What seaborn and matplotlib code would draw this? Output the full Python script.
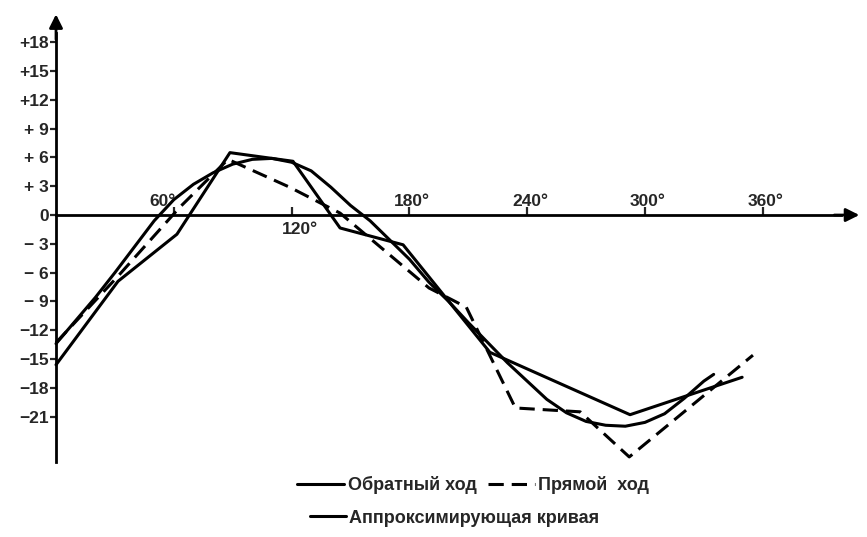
import pandas as pd
import seaborn as sns
import matplotlib.pyplot as plt

# values (angle in degrees, deviation)
angle_reverse = [0, 31.6, 61.6, 88.6, 120.7, 144.7, 176.8, 221, 292.4, 349.5]
value_reverse = [-15.6, -6.9, -2.0, 6.5, 5.6, -1.35, -3.1, -14.3, -20.8, -16.9]

angle_forward = [0, 31, 63, 87.6, 119, 144.7, 190, 209, 234, 267, 292, 355]
value_forward = [-13.3, -6.5, 0.8, 5.8, 2.9, 0.2, -7.6, -9.6, -20.1, -20.5, -25.2, -14.6]

angle_approx = [0, 10, 20, 30, 40, 50, 60, 70, 80, 90, 100, 110, 120, 130, 140, 150,
                160, 170, 180, 190, 200, 210, 220, 230, 240, 250, 260, 270, 280, 290,
                300, 310, 320, 330, 335]
value_approx = [-13.4, -11.0, -8.6, -6.0, -3.3, -0.6, 1.6, 3.2, 4.4, 5.3, 5.8, 5.9, 5.5,
                4.6, 2.9, 1.0, -0.6, -2.6, -4.6, -7.0, -9.0, -11.2, -13.3, -15.4, -17.3,
                -19.2, -20.6, -21.5, -21.9, -22.0, -21.6, -20.7, -19.1, -17.3, -16.6]

ytick_values = [-21, -18, -15, -12, -9, -6, -3, 0, 3, 6, 9, 12, 15, 18]
ytick_labels = ['−21', '−18', '−15', '−12', '− 9', '− 6', '− 3', '0',
                '+ 3', '+ 6', '+ 9', '+12', '+15', '+18']
xtick_values = [60, 120, 180, 240, 300, 360]
xtick_labels = ['60°', '120°', '180°', '240°', '300°', '360°']

labels = ['Обратный ход', 'Прямой  ход', 'Аппроксимирующая кривая']

sns.set_style('ticks')
plt.rcParams['font.family'] = ['Liberation Sans', 'DejaVu Sans']

fig = plt.figure(figsize=(8.67, 5.37), dpi=100)
ax = fig.add_axes([0, 0, 1, 1])

lw = 2.2
sns.lineplot(x=angle_reverse, y=value_reverse, sort=False, estimator=None,
             color='black', linewidth=lw, ax=ax)
line_rev = ax.lines[-1]
sns.lineplot(x=angle_forward, y=value_forward, sort=False, estimator=None,
             color='black', linewidth=lw, linestyle=(0, (5, 2.6)), ax=ax)
line_fwd = ax.lines[-1]
sns.lineplot(x=angle_approx, y=value_approx, sort=False, estimator=None,
             color='black', linewidth=lw, ax=ax)
line_app = ax.lines[-1]

ax.set_xlim(-28.53, 413.1)
ax.set_ylim(-33.54, 22.40)

# axes drawn through the origin, as on the original drawing
ax.spines['left'].set_position(('data', 0))
ax.spines['bottom'].set_position(('data', 0))
ax.spines['left'].set_bounds(-25.7, 19)
ax.spines['bottom'].set_bounds(0, 400)
for s in ['left', 'bottom']:
    ax.spines[s].set_linewidth(2)
    ax.spines[s].set_color('black')
for s in ['top', 'right']:
    ax.spines[s].set_visible(False)

ax.annotate('', xy=(410.6, 0), xytext=(395, 0),
            arrowprops=dict(arrowstyle='-|>', color='black', lw=2, mutation_scale=20))
ax.annotate('', xy=(0, 21.2), xytext=(0, 18),
            arrowprops=dict(arrowstyle='-|>', color='black', lw=2, mutation_scale=20))

ax.set_yticks(ytick_values)
ax.set_yticklabels(ytick_labels, fontweight='bold', fontsize=12.5)
ax.tick_params(axis='y', direction='out', length=4, width=1.6, pad=1, left=True)

ax.set_xticks(xtick_values)
ax.tick_params(axis='x', direction='in', length=6, width=1.6, bottom=True,
               labelbottom=False)

# degree labels: most sit above the axis, 120° below it
offsets = {60: (-8, 4, 'bottom'), 120: (6, -5, 'top')}
for val, lab in zip(xtick_values, xtick_labels):
    dx, dy, va = offsets.get(val, (2, 4, 'bottom'))
    ax.annotate(lab, xy=(val, 0), xytext=(dx, dy), textcoords='offset points',
                ha='center', va=va, fontsize=12.5, fontweight='bold')

fig.legend(handles=[line_rev, line_fwd], labels=labels[:2], ncol=2,
           loc='center left', bbox_to_anchor=(0.343, 0.097), frameon=False,
           handlelength=2.6, handletextpad=0.2, columnspacing=0.6,
           borderpad=0, borderaxespad=0,
           prop={'weight': 'bold', 'size': 13})
fig.legend(handles=[line_app], labels=labels[2:], loc='center left',
           bbox_to_anchor=(0.357, 0.035), frameon=False, handlelength=2.0,
           handletextpad=0.2, borderpad=0, borderaxespad=0,
           prop={'weight': 'bold', 'size': 13})

fig.savefig('out.png', dpi=100)
